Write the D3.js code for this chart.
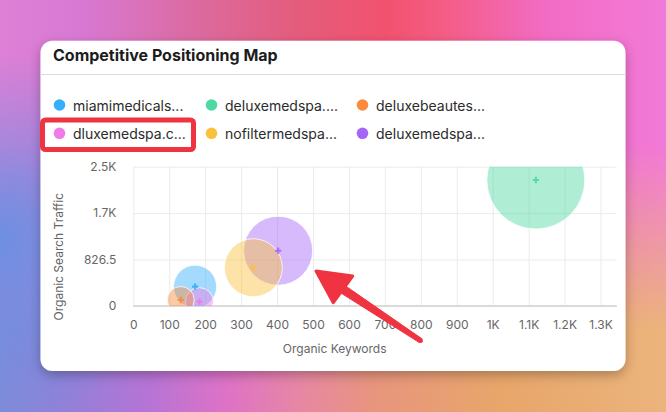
<!DOCTYPE html>
<html>
<head>
<meta charset="utf-8">
<script src="https://cdn.jsdelivr.net/npm/d3@7/dist/d3.min.js"></script>
<style>
  html, body { margin: 0; padding: 0; }
  body { width: 666px; height: 412px; overflow: hidden; font-family: Inter, "Noto Sans", sans-serif; }
  svg { display: block; }
</style>
</head>
<body>
<script>
// ---- data ----
const sites = ["miamimedicals...", "deluxemedspa....", "deluxebeautes...", "dluxemedspa.c...", "nofiltermedspa...", "deluxemedspa..."];
const colors = ["#36aefb", "#4fd8a2", "#fb8a3c", "#f07ae6", "#fbc13c", "#a466f6"];
const organicKeywords = [172, 1120, 132, 184, 334, 403];
const organicTraffic = [344, 2243, 107, 77, 682, 984];
const visibility = [19.3, 100, 7.6, 8.2, 35, 49.6];
const xTicks = [0, 100, 200, 300, 400, 500, 600, 700, 800, 900, 1000, 1100, 1200, 1300];
const xTickLabels = ["0", "100", "200", "300", "400", "500", "600", "700", "800", "900", "1K", "1.1K", "1.2K", "1.3K"];
const yTicks = [0, 826.5, 1653, 2479.5];
const yTickLabels = ["0", "826.5", "1.7K", "2.5K"];
const xMax = 1345;
const yMax = 2479.5;

const W = 666, H = 412;
const svg = d3.select("body").append("svg").attr("width", W).attr("height", H);
const defs = svg.append("defs");

// ---- background ----
function linGrad(id, stops, x2, y2) {
  const g = defs.append("linearGradient").attr("id", id).attr("x1", 0).attr("y1", 0).attr("x2", x2).attr("y2", y2);
  stops.forEach(s => g.append("stop").attr("offset", s[0]).attr("stop-color", s[1]).attr("stop-opacity", s[2] == null ? 1 : s[2]));
}
linGrad("bgTop", [[0, "#de80d6"], [0.12, "#d879d4"], [0.3, "#dc6a9e"], [0.45, "#e45c7c"], [0.58, "#f2526e"], [0.66, "#f45c82"], [0.82, "#f26cc4"], [1, "#f27ad8"]], 1, 0);
linGrad("bgBot", [[0, "#7f8bd9"], [0.1, "#9280d8"], [0.22, "#b574d6"], [0.34, "#de72c6"], [0.45, "#e787a4"], [0.56, "#e8957e"], [0.75, "#e8a66a"], [1, "#ebb47c"]], 1, 0);
linGrad("fadeV", [[0, "#fff", 0], [0.35, "#fff", 0], [0.8, "#fff", 1], [1, "#fff", 1]], 0, 1);
defs.append("mask").attr("id", "bgMask").append("rect").attr("width", W).attr("height", H).attr("fill", "url(#fadeV)");
const rg = defs.append("radialGradient").attr("id", "bgBlue").attr("cx", 0).attr("cy", 0.58).attr("r", 0.45)
  .attr("gradientTransform", "translate(0,0.58) scale(0.6,1) translate(0,-0.58)");
rg.append("stop").attr("offset", 0).attr("stop-color", "#6e8fe2").attr("stop-opacity", 1);
rg.append("stop").attr("offset", 1).attr("stop-color", "#6e8fe2").attr("stop-opacity", 0);
svg.append("rect").attr("width", W).attr("height", H).attr("fill", "url(#bgTop)");
svg.append("rect").attr("width", W).attr("height", H).attr("fill", "url(#bgBot)").attr("mask", "url(#bgMask)");
svg.append("rect").attr("width", W).attr("height", H).attr("fill", "url(#bgBlue)");

const f = defs.append("filter").attr("id", "shadow").attr("x", "-10%").attr("y", "-10%").attr("width", "120%").attr("height", "130%");
f.append("feDropShadow").attr("dx", 0).attr("dy", 4).attr("stdDeviation", 6).attr("flood-color", "#000").attr("flood-opacity", 0.28);

// card
const card = { x: 40.5, y: 40.7, w: 585, h: 330.3 };
svg.append("rect").attr("x", card.x).attr("y", card.y).attr("width", card.w).attr("height", card.h)
  .attr("rx", 12).attr("fill", "#fff").attr("filter", "url(#shadow)");
svg.append("text").attr("x", 53).attr("y", 61).text("Competitive Positioning Map")
  .attr("font-size", 16).attr("font-weight", 700).attr("fill", "#1c1c1c");
svg.append("line").attr("x1", card.x).attr("x2", card.x + card.w).attr("y1", 74.5).attr("y2", 74.5)
  .attr("stroke", "#dcdcdc").attr("stroke-width", 1);

// highlight box (annotation)
svg.append("rect").attr("x", 42.5).attr("y", 120).attr("width", 151).attr("height", 29.5)
  .attr("rx", 3).attr("fill", "#fff").attr("stroke", "#ef3340").attr("stroke-width", 5);

// legend
const legendX = [59.5, 211.5, 362.5];
const legendY = [105, 133.3];
const lg = svg.append("g").selectAll("g").data(sites).join("g")
  .attr("transform", (d, i) => `translate(${legendX[i % 3]},${legendY[Math.floor(i / 3)]})`);
lg.append("circle").attr("r", 5.8).attr("fill", (d, i) => colors[i]);
lg.append("text").attr("x", 13.5).attr("y", 5.5).text(d => d)
  .attr("font-size", 14).attr("fill", "#2b2b2b");

// plot
const plot = { l: 133.3, r: 616.7, t: 166.7, b: 306 };
const x = d3.scaleLinear().domain([0, xMax]).range([plot.l, plot.r]);
const y = d3.scaleLinear().domain([0, yMax]).range([plot.b, plot.t]);
const rScale = d3.scaleSqrt().domain([0, d3.max(visibility)]).range([0, 49]);

const xAxis = svg.append("g").attr("transform", `translate(0,${plot.b})`)
  .call(d3.axisBottom(x).tickValues(xTicks).tickFormat((d, i) => xTickLabels[i])
    .tickSize(-(plot.b - plot.t)).tickPadding(14.5));
xAxis.select(".domain").remove();
xAxis.selectAll(".tick line").attr("stroke", "#ebebed");
xAxis.selectAll(".tick text").attr("font-size", 12).attr("fill", "#666").attr("font-family", "Inter");

const yAxis = svg.append("g").attr("transform", `translate(${plot.l},0)`)
  .call(d3.axisLeft(y).tickValues(yTicks).tickFormat((d, i) => yTickLabels[i])
    .tickSize(-(plot.r - plot.l)).tickPadding(17));
yAxis.select(".domain").remove();
yAxis.selectAll(".tick line").attr("stroke", "#ebebed");
yAxis.selectAll(".tick text").attr("font-size", 12).attr("fill", "#666").attr("font-family", "Inter");

svg.append("line").attr("x1", plot.l).attr("x2", plot.r).attr("y1", plot.b).attr("y2", plot.b)
  .attr("stroke", "#dadada").attr("stroke-width", 2);

defs.append("clipPath").attr("id", "clip").append("rect")
  .attr("x", plot.l).attr("y", plot.t).attr("width", plot.r - plot.l).attr("height", plot.b - plot.t);

const order = d3.range(sites.length).sort((a, b) => visibility[b] - visibility[a]);
const bubbles = svg.append("g").attr("clip-path", "url(#clip)");
bubbles.selectAll("circle").data(order).join("circle")
  .attr("cx", i => x(organicKeywords[i])).attr("cy", i => y(organicTraffic[i]))
  .attr("r", i => rScale(visibility[i]))
  .attr("fill", i => colors[i]).attr("fill-opacity", 0.45)
  .attr("stroke", "#fff").attr("stroke-opacity", 0.8).attr("stroke-width", 1);
const plus = d3.symbol().type(d3.symbolCross).size(22);
bubbles.selectAll("path.m").data(order).join("path").attr("class", "m")
  .attr("d", plus)
  .attr("transform", i => `translate(${x(organicKeywords[i])},${y(organicTraffic[i])})`)
  .attr("fill", i => colors[i]).attr("opacity", 0.9);

// axis titles
svg.append("text").attr("x", 334.7).attr("y", 353).attr("text-anchor", "middle")
  .text("Organic Keywords").attr("font-size", 12).attr("fill", "#666");
svg.append("text").attr("transform", "translate(62.5,256.7) rotate(-90)").attr("text-anchor", "middle")
  .text("Organic Search Traffic").attr("font-size", 12).attr("fill", "#666");

// red arrow (annotation)
const tip = [316, 271], tail = [420.7, 340.7];
const c1 = [352.7, 276], c2 = [333.3, 302.7];
const base = [(c1[0] + c2[0]) / 2, (c1[1] + c2[1]) / 2];
const dx = base[0] - tail[0], dy = base[1] - tail[1], len = Math.hypot(dx, dy);
const nx = -dy / len, ny = dx / len;
const wTail = 2.3, wHead = 4.2;
const shaft = [
  [tail[0] + nx * wTail, tail[1] + ny * wTail],
  [base[0] + nx * wHead, base[1] + ny * wHead],
  [base[0] - nx * wHead, base[1] - ny * wHead],
  [tail[0] - nx * wTail, tail[1] - ny * wTail]
];
const ag = svg.append("g").attr("fill", "#ef3340").attr("stroke", "#ef3340").attr("stroke-linejoin", "round");
ag.append("path").attr("d", "M" + shaft.join("L") + "Z").attr("stroke-width", 1);
ag.append("circle").attr("cx", tail[0]).attr("cy", tail[1]).attr("r", wTail).attr("stroke", "none");
ag.append("path").attr("d", "M" + [tip, c1, c2].join("L") + "Z").attr("stroke-width", 3);
</script>
</body>
</html>
